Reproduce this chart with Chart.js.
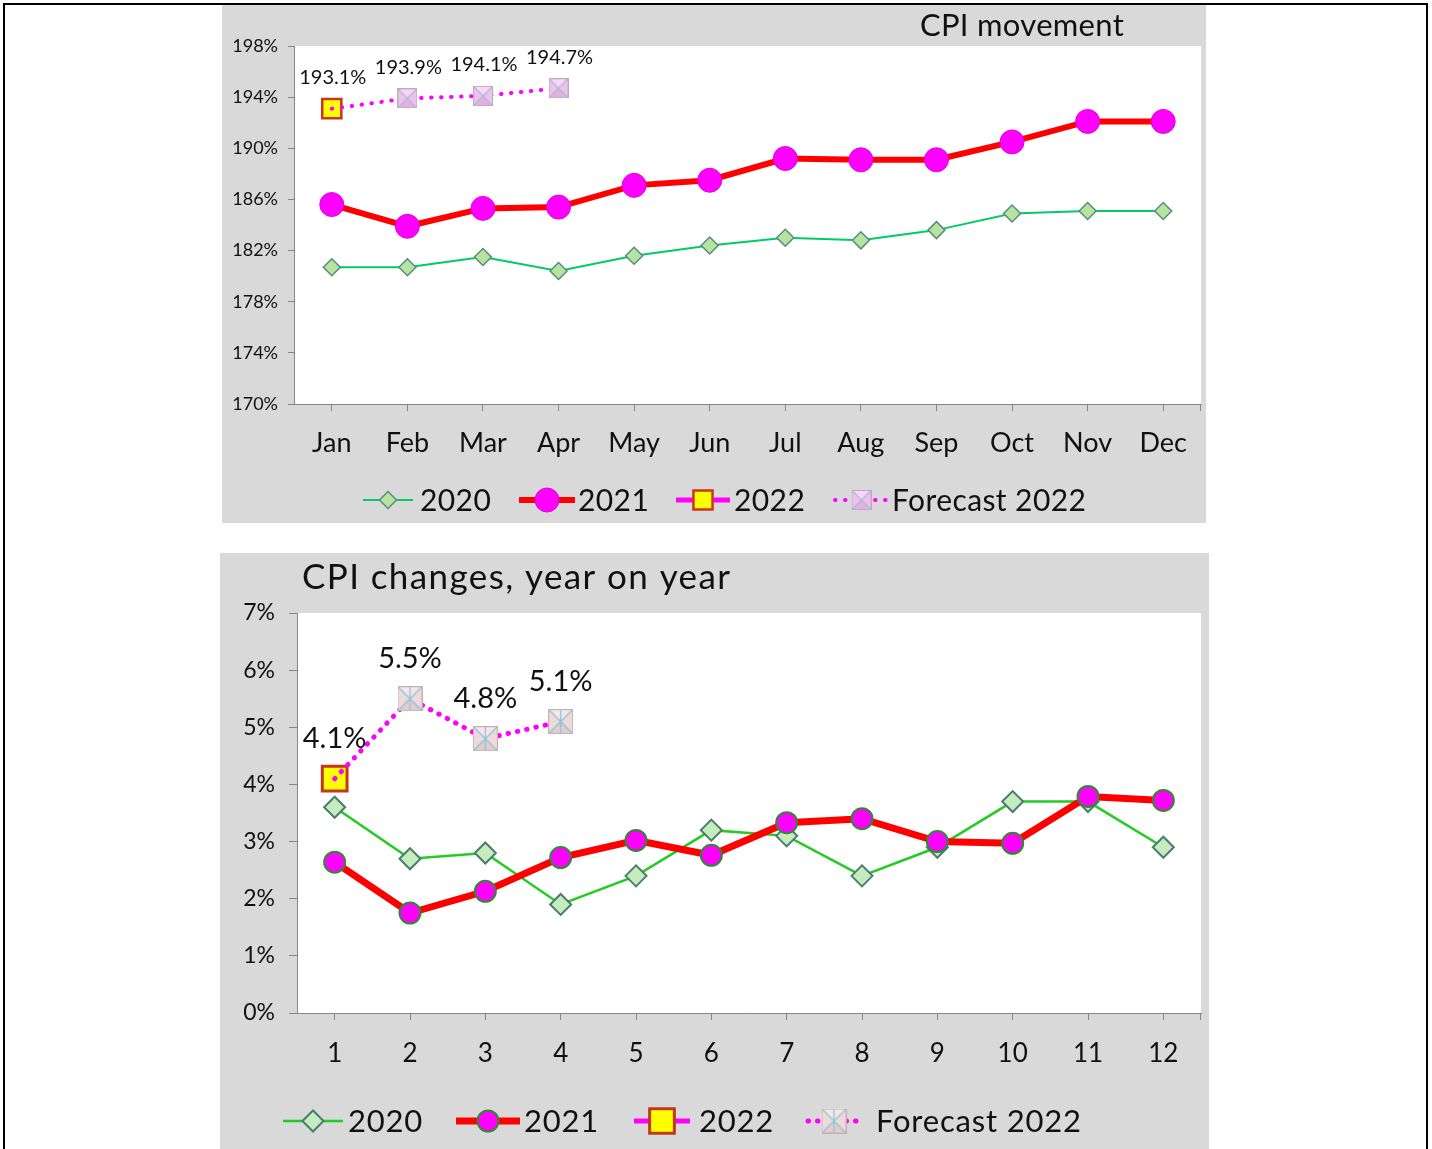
<!DOCTYPE html>
<html><head><meta charset="utf-8">
<script src="https://cdn.jsdelivr.net/npm/chart.js@4.4.1/dist/chart.umd.min.js"></script>
<style>
html,body{margin:0;padding:0;background:#fff;width:1432px;height:1149px;overflow:hidden;}
#frame{position:absolute;left:3px;top:3px;width:1421px;height:1200px;border:2px solid #000;}
.box{position:absolute;background:#d9d9d9;}
#b1{left:222px;top:5px;width:984px;height:518px;}
#b2{left:220px;top:553px;width:989px;height:596px;}
canvas{display:block}
</style></head><body>
<div id="frame"></div>
<div class="box" id="b1"><canvas id="c1" width="984" height="518"></canvas></div>
<div class="box" id="b2"><canvas id="c2" width="989" height="596"></canvas></div>
<script>
// ---------- data ----------
const months = ['Jan','Feb','Mar','Apr','May','Jun','Jul','Aug','Sep','Oct','Nov','Dec'];
const monthNumbers = ['1','2','3','4','5','6','7','8','9','10','11','12'];
const seriesNames = ['2020','2021','2022','Forecast 2022'];

const cpi2020 = [180.7,180.7,181.5,180.4,181.6,182.4,183.0,182.8,183.6,184.9,185.1,185.1];
const cpi2021 = [185.6,183.9,185.3,185.4,187.1,187.5,189.2,189.1,189.1,190.5,192.1,192.1];
const cpi2022 = [193.1,null,null,null,null,null,null,null,null,null,null,null];
const cpiForecast2022 = [193.1,193.9,194.1,194.7,null,null,null,null,null,null,null,null];

const yoy2020 = [3.6,2.7,2.8,1.9,2.4,3.2,3.1,2.4,2.9,3.7,3.7,2.9];
const yoy2021 = [2.64,1.75,2.13,2.72,3.02,2.76,3.33,3.40,3.0,2.97,3.79,3.72];
const yoy2022 = [4.1,null,null,null,null,null,null,null,null,null,null,null];
const yoyForecast2022 = [4.1,5.5,4.8,5.1,null,null,null,null,null,null,null,null];

const topTitle = 'CPI movement';
const bottomTitle = 'CPI changes, year on year';

// ---------- marker images ----------
function boxMarker(size, withVertical, cols){
  const c = document.createElement('canvas'); c.width = size; c.height = size;
  const g = c.getContext('2d'); const s = size, m = 1;
  const tri = (pts, col) => { g.beginPath(); g.moveTo(pts[0],pts[1]); g.lineTo(pts[2],pts[3]); g.lineTo(pts[4],pts[5]); g.closePath(); g.fillStyle = col; g.fill(); };
  const cx = s/2, cy = s/2;
  tri([m,m,s-m,m,cx,cy], cols.top);
  tri([m,m,m,s-m,cx,cy], cols.side);
  tri([s-m,m,s-m,s-m,cx,cy], cols.side);
  tri([m,s-m,s-m,s-m,cx,cy], cols.bottom);
  g.strokeStyle = cols.line; g.lineWidth = 1.2;
  g.beginPath(); g.moveTo(m,m); g.lineTo(s-m,s-m); g.moveTo(s-m,m); g.lineTo(m,s-m);
  if (withVertical){ g.moveTo(cx,m); g.lineTo(cx,s-m); }
  g.stroke();
  g.strokeStyle = cols.border; g.lineWidth = 1; g.strokeRect(0.5,0.5,s-1,s-1);
  return c;
}
const fcTop = boxMarker(20, false, {top:'#f8d8f4', side:'#efc2ec', bottom:'#e4b0e2', line:'#a6bcd8', border:'#c0a8c8'});
const fcBottom = boxMarker(25, true, {top:'#f6e6e6', side:'#efdada', bottom:'#e4cccc', line:'#86c4dc', border:'#c8b0b0'});

// ---------- plugins ----------
const plotBg = {
  id:'plotBg',
  beforeDraw(chart){
    const a = chart.chartArea, ctx = chart.ctx;
    ctx.save(); ctx.fillStyle = '#ffffff'; ctx.fillRect(a.left, a.top, a.right - a.left, a.bottom - a.top); ctx.restore();
  },
  afterDraw(chart){
    // closing tick at the right end of the category axis
    const a = chart.chartArea, ctx = chart.ctx;
    ctx.save(); ctx.strokeStyle = '#868686'; ctx.lineWidth = 1;
    ctx.beginPath(); ctx.moveTo(Math.round(a.right) - 0.5, a.bottom); ctx.lineTo(Math.round(a.right) - 0.5, a.bottom + 7); ctx.stroke();
    ctx.restore();
  }
};
const valueLabels = {
  id:'valueLabels',
  afterDatasetsDraw(chart, args, opts){
    const ctx = chart.ctx; ctx.save();
    ctx.font = opts.font; ctx.fillStyle = '#111'; ctx.textAlign = 'center'; ctx.textBaseline = 'middle';
    opts.sets.forEach(([di, from]) => {
      const meta = chart.getDatasetMeta(di), data = chart.data.datasets[di].data;
      meta.data.forEach((pt, j) => {
        if (j < from || data[j] == null) return;
        ctx.fillText(data[j].toFixed(1) + '%', pt.x + (opts.dx || 0), pt.y - opts.offset);
      });
    });
    ctx.restore();
  }
};
function drawMarker(ctx, style, r, fill, stroke, bw, x, y){
  ctx.save();
  if (typeof style === 'object'){ ctx.drawImage(style, x - style.width/2, y - style.height/2); ctx.restore(); return; }
  ctx.beginPath();
  if (style === 'circle') ctx.arc(x, y, r, 0, Math.PI*2);
  else if (style === 'rectRot'){ ctx.moveTo(x-r,y); ctx.lineTo(x,y-r); ctx.lineTo(x+r,y); ctx.lineTo(x,y+r); ctx.closePath(); }
  else { const s = r*Math.SQRT1_2; ctx.rect(x-s, y-s, 2*s, 2*s); }
  ctx.fillStyle = fill; ctx.fill();
  if (bw > 0){ ctx.lineWidth = bw; ctx.strokeStyle = stroke; ctx.stroke(); }
  ctx.restore();
}
const customLegend = {
  id:'customLegend',
  afterDraw(chart, args, opts){
    const ctx = chart.ctx;
    opts.items.forEach((it, i) => {
      const ds = chart.data.datasets[i];
      ctx.save();
      ctx.strokeStyle = ds.borderColor; ctx.lineWidth = it.lw || ds.borderWidth;
      ctx.lineCap = ds.borderDash ? 'round' : 'butt';
      ctx.setLineDash(ds.borderDash || []);
      ctx.beginPath(); ctx.moveTo(it.x1, opts.y); ctx.lineTo(it.x2, opts.y); ctx.stroke();
      ctx.restore();
      const r = Array.isArray(ds.pointRadius) ? Math.max(...ds.pointRadius) : ds.pointRadius;
      drawMarker(ctx, ds.pointStyle, r, ds.pointBackgroundColor, ds.pointBorderColor, ds.pointBorderWidth, (it.x1+it.x2)/2, opts.y);
      ctx.save(); ctx.font = opts.font; ctx.fillStyle = '#111'; ctx.textAlign = 'left'; ctx.textBaseline = 'middle';
      if (opts.spacing) ctx.letterSpacing = opts.spacing;
      ctx.fillText(seriesNames[i], it.tx, opts.y + 1); ctx.restore();
    });
  }
};
const chartTitle = {
  id:'chartTitle',
  afterDraw(chart, args, opts){
    const ctx = chart.ctx; ctx.save();
    ctx.font = opts.font; ctx.fillStyle = '#111'; ctx.textAlign = opts.align; ctx.textBaseline = 'middle';
    if (opts.spacing) ctx.letterSpacing = opts.spacing;
    ctx.fillText(opts.text, opts.x, opts.y); ctx.restore();
  }
};

const axisCol = '#868686';
const FONT = 'Lato';

// ---------- top chart ----------
new Chart(document.getElementById('c1'), {
  type:'line',
  data:{
    labels: months,
    datasets:[
      {data:cpi2020, borderColor:'#00cc66', borderWidth:2, pointStyle:'rectRot', pointRadius:8.5,
       pointBackgroundColor:'#b4e4a0', pointBorderColor:'#5a8a80', pointBorderWidth:1.5, order:4},
      {data:cpi2021, borderColor:'#ff0000', borderWidth:6, pointStyle:'circle', pointRadius:12,
       pointBackgroundColor:'#ff00ff', pointBorderColor:'#e000e0', pointBorderWidth:1, order:3},
      {data:cpi2022, borderColor:'#ff00ff', borderWidth:5, pointStyle:'rect', pointRadius:13.5,
       pointBackgroundColor:'#ffff00', pointBorderColor:'#c8361c', pointBorderWidth:2.5, order:2},
      {data:cpiForecast2022, borderColor:'#ff00ff', borderWidth:4, borderDash:[0.5,9.5], borderCapStyle:'round',
       pointStyle:fcTop, pointRadius:[0,9,9,9,0,0,0,0,0,0,0,0], pointBackgroundColor:'#f0c0ec', pointBorderColor:'#c0a8c8', pointBorderWidth:1, order:1}
    ]
  },
  options:{
    responsive:false, animation:false, spanGaps:false,
    layout:{autoPadding:false, padding:{top:41, right:5, left:0, bottom:0}},
    plugins:{
      legend:{display:false}, tooltip:{enabled:false},
      valueLabels:{font:'20px '+FONT, offset:31, dx:1, sets:[[2,0],[3,1]]},
      customLegend:{y:495, font:'30px '+FONT, spacing:'0.4px', items:[
        {x1:141,x2:191,tx:198},{x1:297,x2:353,tx:356},{x1:454,x2:508,tx:512},{x1:613,x2:666,tx:670}]},
      chartTitle:{text:topTitle, font:'31px '+FONT, x:800, y:21, align:'center', spacing:'0.3px'}
    },
    scales:{
      x:{offset:true,
         grid:{offset:false, drawOnChartArea:false, tickLength:7, color:axisCol},
         border:{color:axisCol},
         ticks:{font:{family:FONT,size:27}, color:'#111', padding:16, maxRotation:0, autoSkip:false},
         afterFit(s){ s.height = 119; s.paddingLeft = 0; s.paddingRight = 0; }},
      y:{min:170, max:198,
         ticks:{stepSize:4, callback:v => v + '%', font:{family:FONT,size:18}, color:'#111', padding:10},
         grid:{drawOnChartArea:false, tickLength:6, color:axisCol},
         border:{color:axisCol},
         afterFit(s){ s.width = 72; }}
    }
  },
  plugins:[plotBg, valueLabels, customLegend, chartTitle]
});

// ---------- bottom chart ----------
new Chart(document.getElementById('c2'), {
  type:'line',
  data:{
    labels: monthNumbers,
    datasets:[
      {data:yoy2020, borderColor:'#22cc22', borderWidth:2.5, pointStyle:'rectRot', pointRadius:10.5,
       pointBackgroundColor:'#c4ecbc', pointBorderColor:'#4a7c70', pointBorderWidth:2, order:4},
      {data:yoy2021, borderColor:'#ff0000', borderWidth:7, pointStyle:'circle', pointRadius:10.5,
       pointBackgroundColor:'#ff00ff', pointBorderColor:'#2f8a2f', pointBorderWidth:2, order:3},
      {data:yoy2022, borderColor:'#ff00ff', borderWidth:5, pointStyle:'rect', pointRadius:17.5,
       pointBackgroundColor:'#ffff00', pointBorderColor:'#c0391c', pointBorderWidth:3, order:2},
      {data:yoyForecast2022, borderColor:'#ff00ff', borderWidth:5, borderDash:[0.5,9], borderCapStyle:'round',
       pointStyle:fcBottom, pointRadius:[0,10,10,10,0,0,0,0,0,0,0,0], pointBackgroundColor:'#f0dcdc', pointBorderColor:'#c8b0b0', pointBorderWidth:1, order:1}
    ]
  },
  options:{
    responsive:false, animation:false,
    layout:{autoPadding:false, padding:{top:60, right:8, left:0, bottom:0}},
    plugins:{
      legend:{display:false}, tooltip:{enabled:false},
      valueLabels:{font:'29px '+FONT, offset:40, dx:0, sets:[[2,0],[3,1]]},
      customLegend:{y:568, font:'31px '+FONT, spacing:'0.8px', items:[
        {x1:63,x2:123,tx:128},{x1:236,x2:300,tx:304},{x1:414,x2:470,tx:479},{x1:588,x2:640,tx:656}]},
      chartTitle:{text:bottomTitle, font:'35px '+FONT, x:82, y:25, align:'left', spacing:'1.4px'}
    },
    scales:{
      x:{offset:true,
         grid:{offset:false, drawOnChartArea:false, tickLength:7, color:axisCol},
         border:{color:axisCol},
         ticks:{font:{family:FONT,size:26}, color:'#111', padding:18, maxRotation:0, autoSkip:false},
         afterFit(s){ s.height = 136; s.paddingLeft = 0; s.paddingRight = 0; }},
      y:{min:0, max:7,
         ticks:{stepSize:1, callback:v => v + '%', font:{family:FONT,size:23}, color:'#111', padding:14},
         grid:{drawOnChartArea:false, tickLength:8, color:axisCol},
         border:{color:axisCol},
         afterFit(s){ s.width = 77; }}
    }
  },
  plugins:[plotBg, valueLabels, customLegend, chartTitle]
});
</script>
</body></html>
